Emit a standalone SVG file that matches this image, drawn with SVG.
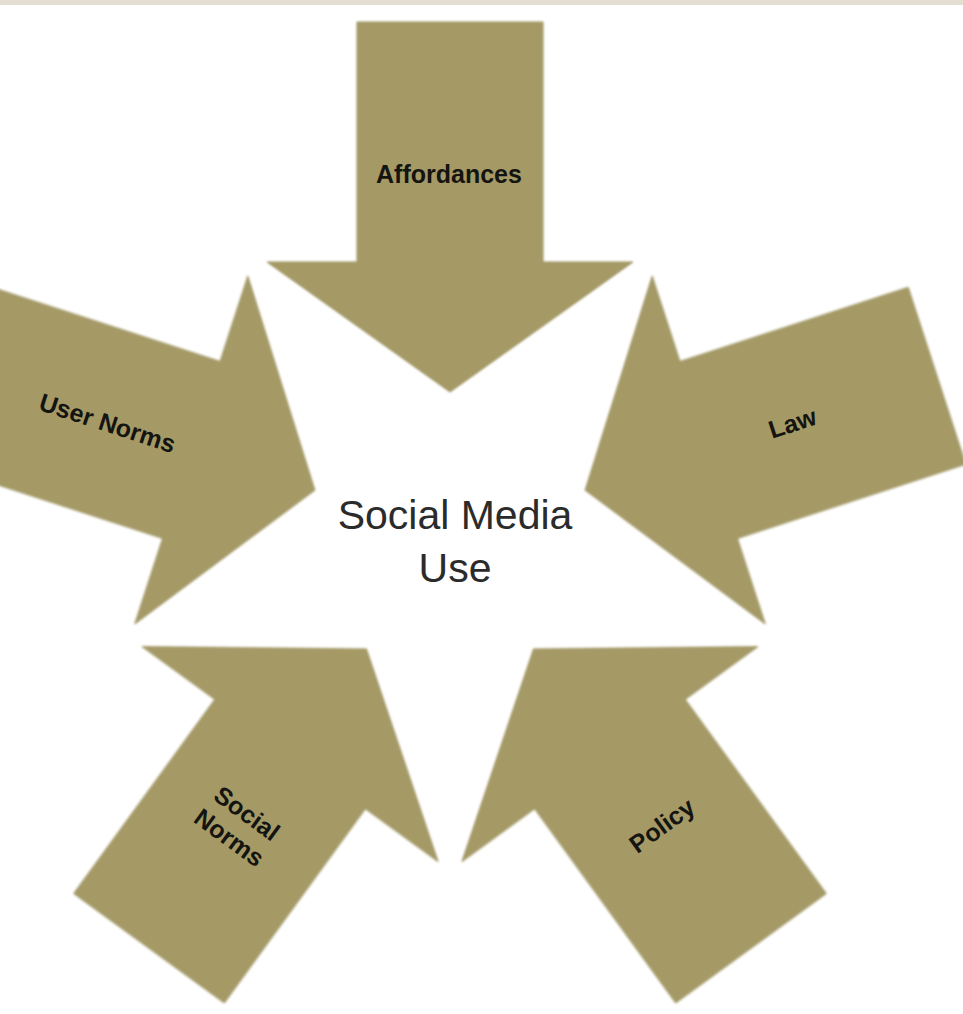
<svg xmlns="http://www.w3.org/2000/svg" xmlns:xlink="http://www.w3.org/1999/xlink" width="963" height="1014" viewBox="0 0 963 1014">
  <style>
    .arrow { fill: #a59a66; stroke: #9b915f; stroke-width: 1; filter: url(#soft); }
    .label { font-family: "Liberation Sans", Arial, sans-serif; font-weight: bold; font-size: 25px; fill: #141410; text-anchor: middle; }
    .center { font-family: "Liberation Sans", Arial, sans-serif; font-size: 41px; fill: #2b2b2b; text-anchor: middle; }
  </style>
  <defs>
    <filter id="soft" x="-5%" y="-5%" width="110%" height="110%">
      <feGaussianBlur stdDeviation="0.8"/>
    </filter>
    <path id="arrowShape" d="M -93,-512 L 93,-512 L 93,-272 L 183,-272 L 0,-142 L -183,-272 L -93,-272 Z"/>
  </defs>
  <rect x="0" y="0" width="963" height="1014" fill="#ffffff"/>
  <rect x="0" y="0" width="963" height="5" fill="#e4ddd1"/>

  <g id="connectors"></g>

  <g id="affordances">
    <use xlink:href="#arrowShape" class="arrow" transform="translate(450,534) rotate(0)"/>
    <text class="label" transform="translate(449,174)" x="0" y="9">Affordances</text>
  </g>
  <g id="user-norms">
    <use xlink:href="#arrowShape" class="arrow" transform="translate(450,534) rotate(-72)"/>
    <text class="label" transform="translate(107.6,422.8) rotate(18)" x="0" y="9">User Norms</text>
  </g>
  <g id="law">
    <use xlink:href="#arrowShape" class="arrow" transform="translate(450,534) rotate(72)"/>
    <text class="label" transform="translate(792.4,422.8) rotate(-18)" x="0" y="9">Law</text>
  </g>
  <g id="social-norms">
    <use xlink:href="#arrowShape" class="arrow" transform="translate(450,534) rotate(-144)"/>
    <text class="label" transform="translate(238.3,825.2) rotate(36)"><tspan x="0" y="-6">Social</tspan><tspan x="0" y="24">Norms</tspan></text>
  </g>
  <g id="policy">
    <use xlink:href="#arrowShape" class="arrow" transform="translate(450,534) rotate(144)"/>
    <text class="label" transform="translate(661.7,825.2) rotate(-36)" x="0" y="9">Policy</text>
  </g>

  <g id="social-media-use">
    <text class="center" x="455" y="529">Social Media</text>
    <text class="center" x="455" y="582">Use</text>
  </g>
</svg>
